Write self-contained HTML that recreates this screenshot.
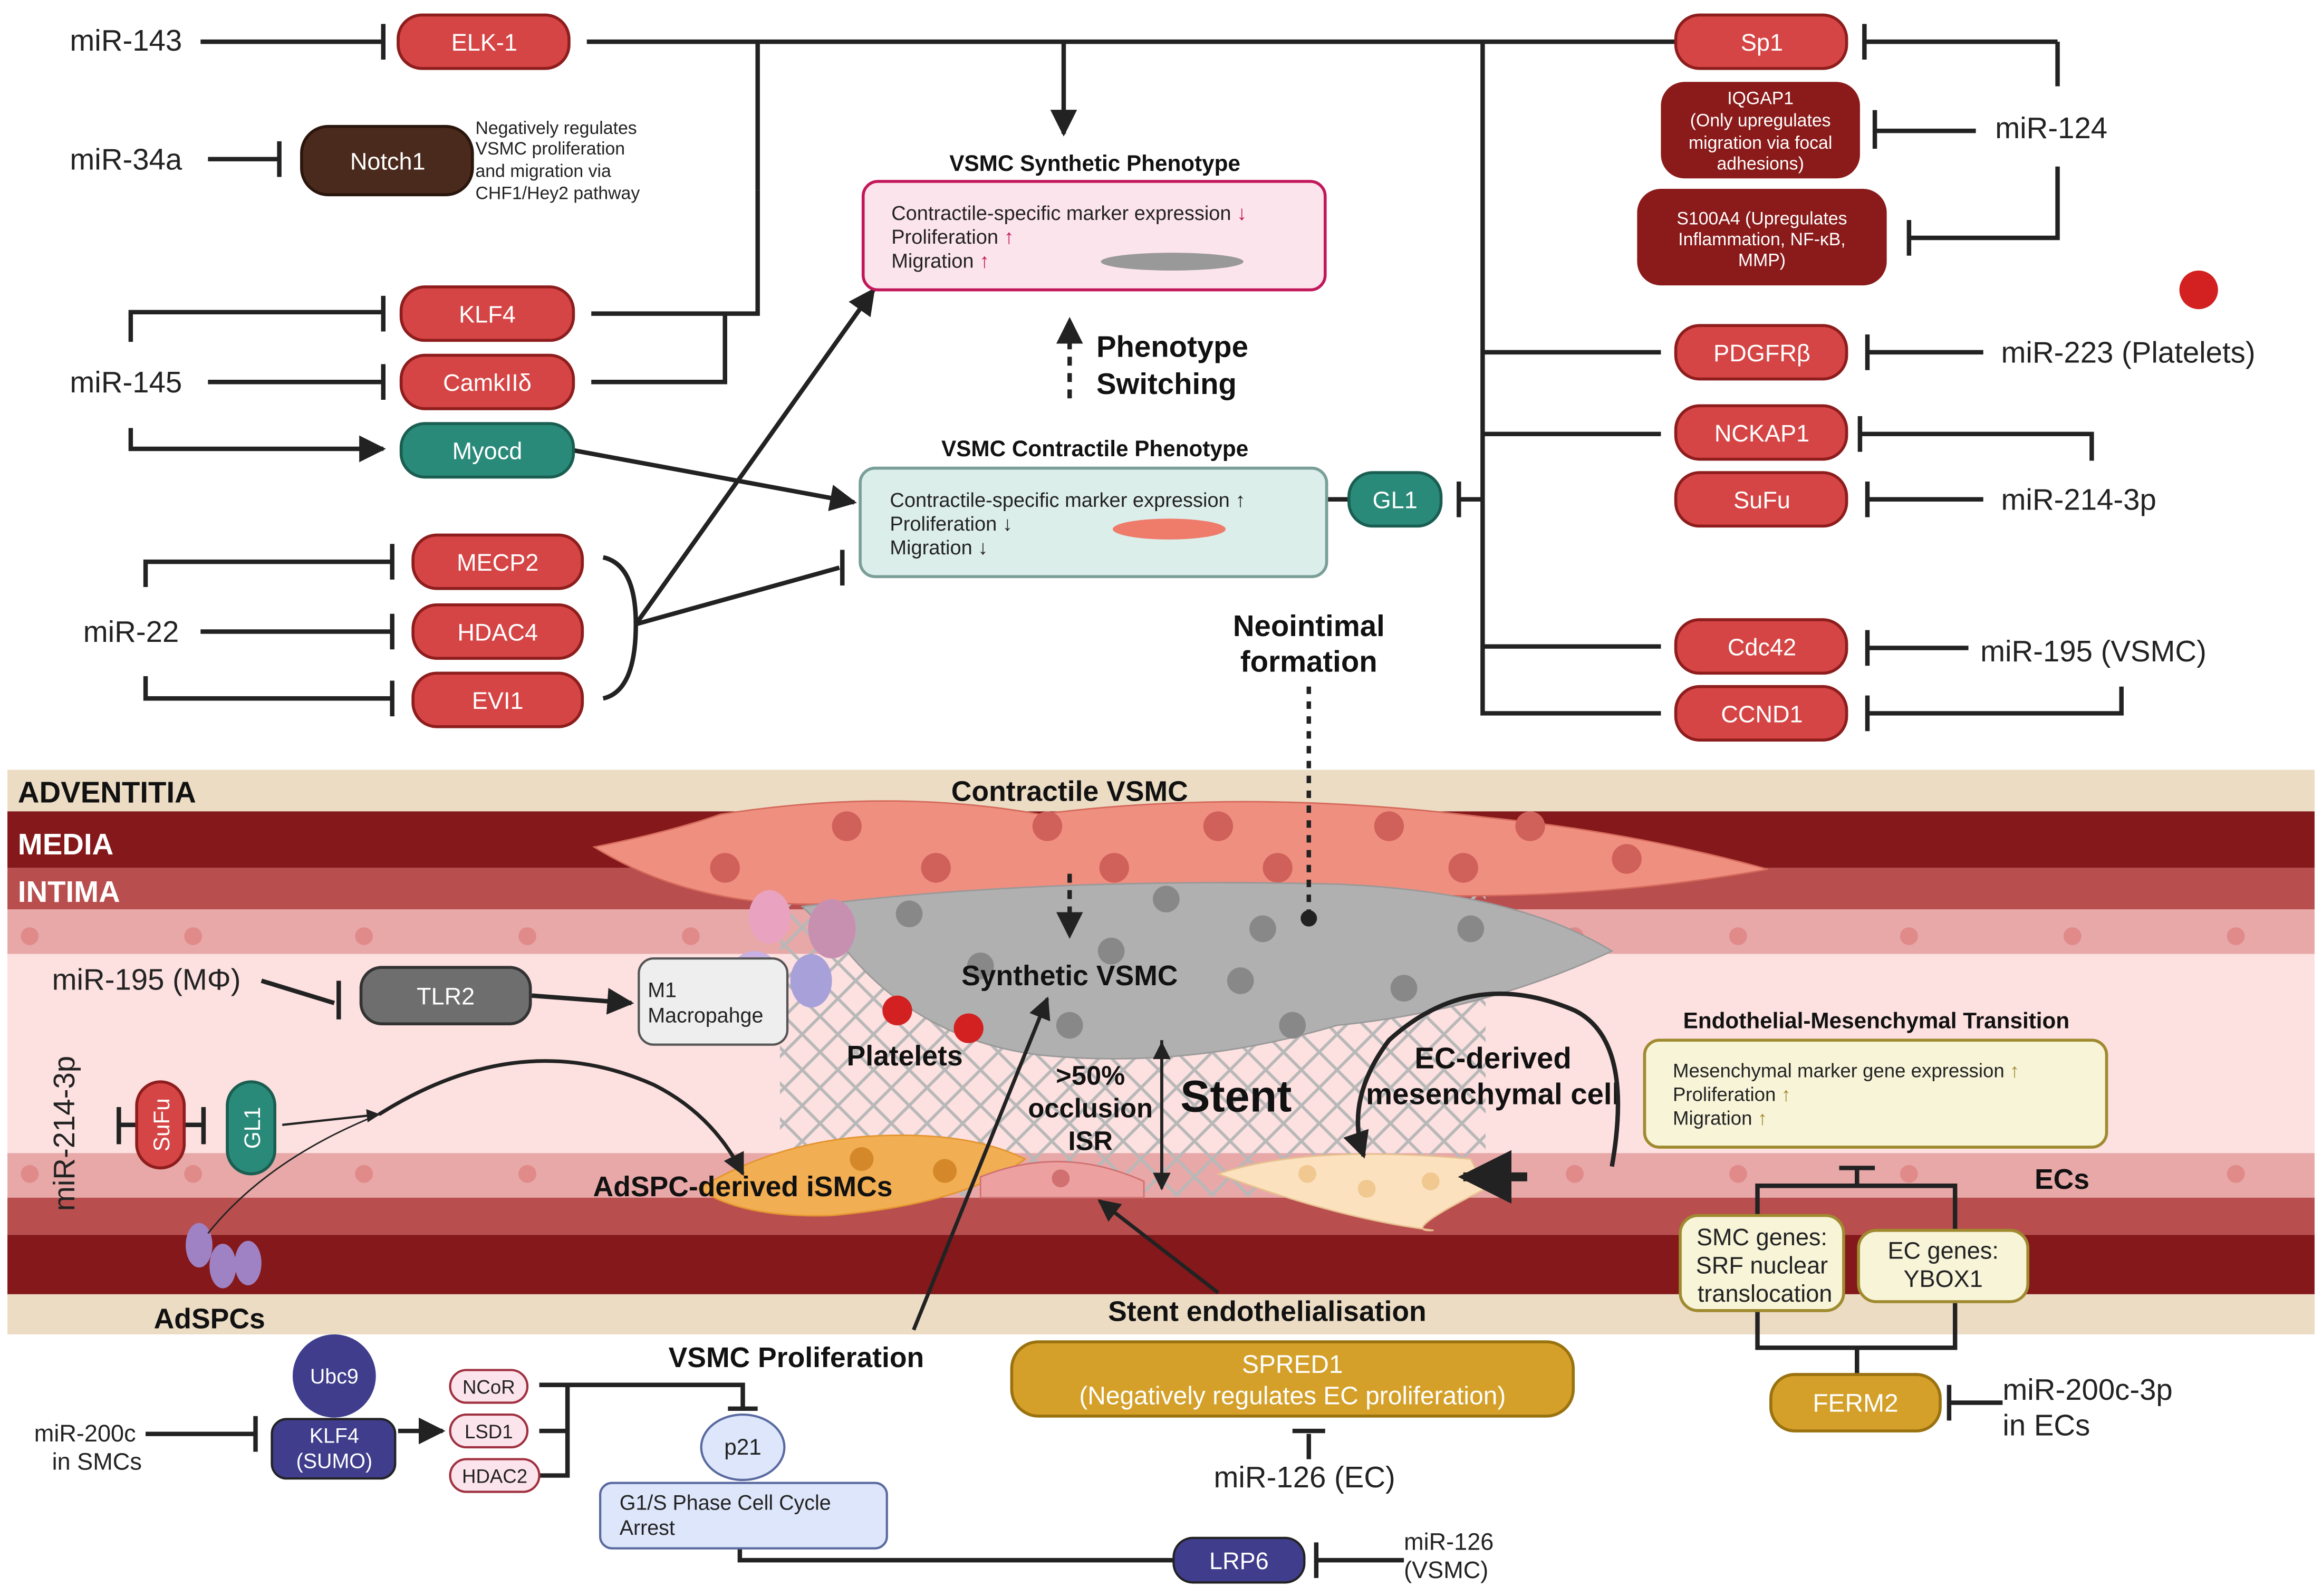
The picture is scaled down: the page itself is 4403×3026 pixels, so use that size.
<!DOCTYPE html>
<html><head><meta charset="utf-8"><style>
html,body{margin:0;padding:0;background:#fff}
svg{display:block}
text{font-family:"Liberation Sans",sans-serif}
</style></head><body>
<svg width="4403" height="3026" viewBox="0 0 1563 1074" xmlns="http://www.w3.org/2000/svg">
<defs>
<marker id="ar" viewBox="0 0 10 10" refX="9" refY="5" markerWidth="6" markerHeight="6" orient="auto"><path d="M0,0L10,5L0,10z" fill="#222"/></marker>
<pattern id="mesh" width="24" height="24" patternUnits="userSpaceOnUse"><path d="M0,12L12,0L24,12L12,24z" fill="none" stroke="#b8b8b8" stroke-width="2"/></pattern>
</defs>
<rect width="1563" height="1074" fill="#fff"/>
<rect x="5" y="518" width="1553" height="28" fill="#ecdcc4"/>
<rect x="5" y="546" width="1553" height="38" fill="#84181a"/>
<rect x="5" y="584" width="1553" height="28" fill="#b84e4e"/>
<rect x="5" y="612" width="1553" height="30" fill="#e8a8a8"/>
<rect x="5" y="642" width="1553" height="134" fill="#fde0e0"/>
<rect x="5" y="776" width="1553" height="30" fill="#e8a8a8"/>
<rect x="5" y="806" width="1553" height="25" fill="#b84e4e"/>
<rect x="5" y="831" width="1553" height="40" fill="#84181a"/>
<rect x="5" y="871" width="1553" height="27" fill="#ecdcc4"/>
<g fill="#e08a8a">
<circle cx="20" cy="630" r="6"/><circle cx="130" cy="630" r="6"/><circle cx="245" cy="630" r="6"/><circle cx="355" cy="630" r="6"/><circle cx="465" cy="630" r="6"/><circle cx="1060" cy="630" r="6"/><circle cx="1170" cy="630" r="6"/><circle cx="1285" cy="630" r="6"/><circle cx="1395" cy="630" r="6"/><circle cx="1505" cy="630" r="6"/>
<circle cx="20" cy="790" r="6"/><circle cx="130" cy="790" r="6"/><circle cx="245" cy="790" r="6"/><circle cx="355" cy="790" r="6"/><circle cx="1060" cy="790" r="6"/><circle cx="1170" cy="790" r="6"/><circle cx="1285" cy="790" r="6"/><circle cx="1505" cy="790" r="6"/>
</g>
<rect x="525" y="600" width="475" height="205" fill="url(#mesh)"/>
<g fill="#ef8f80" stroke="#d56a5c" stroke-width="1">
<path d="M485,548 Q600,530 700,548 Q840,530 1000,550 Q1100,560 1190,585 Q1050,610 900,600 Q750,625 600,605 Q480,620 400,570 Q450,560 485,548z"/>
</g>
<g fill="#d0605a"><circle cx="570" cy="556" r="10"/><circle cx="705" cy="556" r="10"/><circle cx="820" cy="556" r="10"/><circle cx="935" cy="556" r="10"/><circle cx="1030" cy="556" r="10"/><circle cx="488" cy="584" r="10"/><circle cx="630" cy="584" r="10"/><circle cx="750" cy="584" r="10"/><circle cx="860" cy="584" r="10"/><circle cx="985" cy="584" r="10"/><circle cx="1095" cy="578" r="10"/></g>
<path d="M540,610 Q700,590 900,595 Q1020,600 1085,640 Q1000,680 900,690 Q800,720 700,710 Q620,700 570,640z" fill="#b0b0b0" stroke="#999"/>
<g fill="#888"><circle cx="612" cy="615" r="9"/><circle cx="785" cy="605" r="9"/><circle cx="850" cy="625" r="9"/><circle cx="990" cy="625" r="9"/><circle cx="660" cy="650" r="9"/><circle cx="835" cy="660" r="9"/><circle cx="945" cy="665" r="9"/><circle cx="720" cy="690" r="9"/><circle cx="870" cy="690" r="9"/><circle cx="748" cy="640" r="9"/></g>
<g><ellipse cx="518" cy="617" rx="14" ry="18" fill="#e9a3c0"/><ellipse cx="560" cy="625" rx="16" ry="20" fill="#c890b0"/><ellipse cx="508" cy="660" rx="18" ry="20" fill="#c8b0e0"/><ellipse cx="546" cy="660" rx="14" ry="18" fill="#a8a0d8"/></g>
<g fill="#d32020"><circle cx="604" cy="680" r="10"/><circle cx="652" cy="692" r="10"/><circle cx="1480" cy="195" r="13"/></g>
<path d="M470,800 Q520,770 580,765 Q650,760 690,780 Q650,810 560,818 Q500,820 470,800z" fill="#f2ae52" stroke="#e39530"/>
<circle cx="580" cy="780" r="8" fill="#d4882a"/><circle cx="636" cy="788" r="8" fill="#d4882a"/>
<path d="M660,792 Q715,770 770,795 L770,806 L660,806z" fill="#eca0a0" stroke="#d07070"/>
<circle cx="714" cy="793" r="6" fill="#d07070"/>
<path d="M820,790 Q880,770 990,780 L1000,800 Q940,830 965,828 Q900,820 820,790z" fill="#fbe1bd" stroke="#e8c090"/>
<g fill="#f0c890"><circle cx="880" cy="790" r="6"/><circle cx="920" cy="800" r="6"/><circle cx="963" cy="795" r="6"/></g>
<g fill="#9f82c4"><ellipse cx="134" cy="838" rx="9" ry="15"/><ellipse cx="150" cy="852" rx="9" ry="15"/><ellipse cx="167" cy="850" rx="9" ry="15"/></g>
<g font-weight="bold" font-size="20">
<text x="12" y="540" fill="#111">ADVENTITIA</text>
<text x="12" y="575" fill="#fff">MEDIA</text>
<text x="12" y="607" fill="#fff">INTIMA</text>
<text x="720" y="539" text-anchor="middle" font-size="19" fill="#111">Contractile VSMC</text>
<text x="720" y="663" text-anchor="middle" font-size="19" fill="#111">Synthetic VSMC</text>
<text x="609" y="717" text-anchor="middle" font-size="19" fill="#111">Platelets</text>
<text x="734" y="730" text-anchor="middle" font-size="18" fill="#111">&gt;50%</text>
<text x="734" y="752" text-anchor="middle" font-size="18" fill="#111">occlusion</text>
<text x="734" y="774" text-anchor="middle" font-size="18" fill="#111">ISR</text>
<text x="832" y="748" text-anchor="middle" font-size="30" fill="#111">Stent</text>
<text x="1005" y="719" text-anchor="middle" font-size="20" fill="#111">EC-derived</text>
<text x="1005" y="743" text-anchor="middle" font-size="20" fill="#111">mesenchymal cell</text>
<text x="500" y="805" text-anchor="middle" font-size="19" fill="#111">AdSPC-derived iSMCs</text>
<text x="1388" y="800" text-anchor="middle" font-size="19" fill="#111">ECs</text>
<text x="141" y="894" text-anchor="middle" font-size="19" fill="#111">AdSPCs</text>
<text x="853" y="889" text-anchor="middle" font-size="19" fill="#111">Stent endothelialisation</text>
<text x="536" y="920" text-anchor="middle" font-size="19" fill="#111">VSMC Proliferation</text>
<text x="881" y="428" text-anchor="middle" font-size="20" fill="#111">Neointimal</text>
<text x="881" y="452" text-anchor="middle" font-size="20" fill="#111">formation</text>
<text x="738" y="240" font-size="20" fill="#111">Phenotype</text>
<text x="738" y="265" font-size="20" fill="#111">Switching</text>
<text x="737" y="115" text-anchor="middle" font-size="15" fill="#111">VSMC Synthetic Phenotype</text>
<text x="737" y="307" text-anchor="middle" font-size="15" fill="#111">VSMC Contractile Phenotype</text>
<text x="1263" y="692" text-anchor="middle" font-size="15" fill="#111">Endothelial-Mesenchymal Transition</text>
</g>
<g stroke="#222" stroke-width="3" fill="none">
<path d="M395,28 H1128"/><path d="M510,28 V128"/><path d="M398,211 H510 V128"/><path d="M398,257 H488 V211"/>
<path d="M716,28 V90" marker-end="url(#ar)"/>
<path d="M998,28 V480 H1118"/><path d="M998,237 H1118"/><path d="M998,292 H1118"/><path d="M998,435 H1118"/>
<path d="M135,28 H258"/><path d="M258,16 V40"/>
<path d="M140,107 H188"/><path d="M188,95 V119"/>
<path d="M88,230 V210 H258"/><path d="M258,199 V223"/>
<path d="M140,257 H258"/><path d="M258,245 V269"/>
<path d="M88,288 V302 H258" marker-end="url(#ar)"/>
<path d="M98,395 V378 H264"/><path d="M264,366 V390"/>
<path d="M135,425 H264"/><path d="M264,413 V437"/>
<path d="M98,455 V470 H264"/><path d="M264,458 V482"/>
<path d="M1385,28 V58"/><path d="M1262,74 V100"/><path d="M1262,88 H1330"/><path d="M1385,112 V160 H1285"/><path d="M1285,148 V172"/>
<path d="M1255,28 H1385"/><path d="M1255,16 V40"/>
<path d="M1335,237 H1257"/><path d="M1257,225 V249"/>
<path d="M1408,310 V292 H1252"/><path d="M1252,280 V304"/>
<path d="M1335,336 H1257"/><path d="M1257,324 V348"/>
<path d="M1325,436 H1257"/><path d="M1257,424 V448"/>
<path d="M1428,462 V480 H1257"/><path d="M1257,468 V492"/>
<path d="M998,336 H982"/><path d="M982,324 V348"/>
<path d="M908,336 H858" marker-end="url(#ar)"/>
<path d="M386,303 L575,338" marker-end="url(#ar)"/>
<path d="M428,420 L588,195" marker-end="url(#ar)"/>
<path d="M428,420 L565,382"/><path d="M567,370 V394"/>
<path d="M406,375 Q428,380 428,420 Q428,465 406,470"/>
<path d="M720,268 V215" stroke-dasharray="6,5" marker-end="url(#ar)"/>
<path d="M881,462 V615" stroke-dasharray="5,5"/>
<circle cx="881" cy="618" r="4" fill="#222"/>
<path d="M720,588 V630" stroke-dasharray="6,5" marker-end="url(#ar)"/>
<path d="M176,660 L225,675"/><path d="M228,660 V686"/>
<path d="M358,670 L425,675" marker-end="url(#ar)"/>
<path d="M80,757 H92"/><path d="M80,745 V770"/><path d="M124,757 H137"/><path d="M137,745 V770"/>
<path d="M190,757 L255,750" stroke-width="1.5" marker-end="url(#ar)"/>
<path d="M255,750 Q350,690 440,730 Q480,750 500,790" stroke-width="2.5" marker-end="url(#ar)"/>
<path d="M140,830 Q180,780 255,750" stroke-width="1"/>
<path d="M615,895 L705,672" stroke-width="2.5" marker-end="url(#ar)"/>
<path d="M820,870 L740,808" stroke-width="2.5" marker-end="url(#ar)"/>
<path d="M782,700 V800" stroke-width="2" marker-end="url(#ar)"/><path d="M782,790 V702" stroke-width="2" marker-end="url(#ar)"/>
<path d="M1085,785 Q1100,700 1060,680 Q990,650 935,700 Q905,740 918,778" stroke-width="3" marker-end="url(#ar)"/>
<path d="M1028,792 H985" stroke-width="6" marker-end="url(#ar)"/>
<path d="M1183,818 V798 H1316 V828"/><path d="M1250,798 V787"/><path d="M1238,786 H1262"/>
<path d="M1183,882 V907 H1316 V877"/><path d="M1250,907 V925"/>
<path d="M1348,944 H1312"/><path d="M1312,932 V956"/>
<path d="M881,982 V965"/><path d="M870,963 H892"/>
<path d="M98,965 H172"/><path d="M172,953 V977"/>
<path d="M268,963 H298" marker-end="url(#ar)"/>
<path d="M363,932 H500 V948"/><path d="M490,948 H510"/><path d="M363,963 H382"/><path d="M363,993 H382 V932"/>
<path d="M790,1050 H498 V1038"/><path d="M488,1036 H508"/>
<path d="M945,1050 H886"/><path d="M886,1038 V1062"/>
</g>
<g stroke="#8e1d1d" stroke-width="2" fill="#d64545">
<rect x="268" y="10" width="115" height="36" rx="16"/>
<rect x="270" y="193" width="116" height="36" rx="16"/>
<rect x="270" y="239" width="116" height="36" rx="16"/>
<rect x="278" y="360" width="114" height="36" rx="16"/>
<rect x="278" y="407" width="114" height="36" rx="16"/>
<rect x="278" y="453" width="114" height="36" rx="16"/>
<rect x="1128" y="10" width="115" height="36" rx="16"/>
<rect x="1128" y="219" width="115" height="36" rx="16"/>
<rect x="1128" y="273" width="115" height="36" rx="16"/>
<rect x="1128" y="318" width="115" height="36" rx="16"/>
<rect x="1128" y="417" width="115" height="36" rx="16"/>
<rect x="1128" y="462" width="115" height="36" rx="16"/>
<rect x="92" y="728" width="32" height="58" rx="16"/>
</g>
<rect x="1118" y="55" width="134" height="65" rx="16" fill="#8b1a1a"/>
<rect x="1102" y="127" width="168" height="65" rx="16" fill="#8b1a1a"/>
<rect x="203" y="85" width="115" height="46" rx="18" fill="#4a2a1c" stroke="#2a160c" stroke-width="2"/>
<g fill="#2a8a7a" stroke="#1a5e52" stroke-width="2">
<rect x="270" y="285" width="116" height="36" rx="16"/>
<rect x="908" y="318" width="62" height="36" rx="16"/>
<rect x="153" y="728" width="32" height="62" rx="16"/>
</g>
<rect x="243" y="651" width="114" height="38" rx="14" fill="#6e6e6e" stroke="#333" stroke-width="2"/>
<rect x="430" y="645" width="100" height="58" rx="10" fill="#eee" stroke="#555" stroke-width="1.5"/>
<g fill="#fff" font-size="16" text-anchor="middle">
<text x="326" y="34">ELK-1</text><text x="261" y="114">Notch1</text>
<text x="328" y="217">KLF4</text><text x="328" y="263">CamkIIδ</text><text x="328" y="309">Myocd</text>
<text x="335" y="384">MECP2</text><text x="335" y="431">HDAC4</text><text x="335" y="477">EVI1</text>
<text x="1186" y="34">Sp1</text><text x="1186" y="243">PDGFRβ</text><text x="1186" y="297">NCKAP1</text><text x="1186" y="342">SuFu</text><text x="1186" y="441">Cdc42</text><text x="1186" y="486">CCND1</text>
<text x="939" y="342">GL1</text><text x="300" y="676">TLR2</text>
<g font-size="12"><text x="1185" y="70">IQGAP1</text><text x="1185" y="85">(Only upregulates</text><text x="1185" y="100">migration via focal</text><text x="1185" y="114">adhesions)</text>
<text x="1186" y="151">S100A4 (Upregulates</text><text x="1186" y="165">Inflammation, NF-κB,</text><text x="1186" y="179">MMP)</text></g>
<text transform="translate(114,757) rotate(-90)" font-size="15">SuFu</text>
<text transform="translate(175,759) rotate(-90)" font-size="15">GL1</text>
</g>
<text x="436" y="671" font-size="14" fill="#222">M1</text><text x="436" y="688" font-size="14" fill="#222">Macropahge</text>
<g font-size="20" fill="#222">
<text x="47" y="34">miR-143</text><text x="47" y="114">miR-34a</text><text x="47" y="264">miR-145</text><text x="56" y="432">miR-22</text>
<text x="1343" y="93">miR-124</text><text x="1347" y="244">miR-223 (Platelets)</text><text x="1347" y="343">miR-214-3p</text><text x="1333" y="445">miR-195 (VSMC)</text>
<text x="35" y="666">miR-195 (MΦ)</text>
<text transform="translate(50,815) rotate(-90)">miR-214-3p</text>
<text x="817" y="1001">miR-126 (EC)</text>
<text x="1348" y="942">miR-200c-3p</text><text x="1348" y="966">in ECs</text>
</g>
<g font-size="12" fill="#222"><text x="320" y="90">Negatively regulates</text><text x="320" y="104">VSMC proliferation</text><text x="320" y="119">and migration via</text><text x="320" y="134">CHF1/Hey2 pathway</text></g>
<rect x="581" y="122" width="311" height="73" rx="10" fill="#fce4ec" stroke="#c2185b" stroke-width="2"/>
<rect x="579" y="315" width="314" height="73" rx="10" fill="#dceee9" stroke="#7a9e98" stroke-width="2"/>
<g font-size="13.5" fill="#222">
<text x="600" y="148">Contractile-specific marker expression <tspan fill="#c2185b">↓</tspan></text>
<text x="600" y="164">Proliferation <tspan fill="#c2185b">↑</tspan></text><text x="600" y="180">Migration <tspan fill="#c2185b">↑</tspan></text>
<text x="599" y="341">Contractile-specific marker expression ↑</text>
<text x="599" y="357">Proliferation ↓</text><text x="599" y="373">Migration ↓</text>
</g>
<ellipse cx="789" cy="176" rx="48" ry="6" fill="#999"/>
<ellipse cx="787" cy="356" rx="38" ry="7" fill="#ef7b6b"/>
<rect x="1107" y="700" width="311" height="72" rx="10" fill="#f7f4d8" stroke="#a08a30" stroke-width="2"/>
<g font-size="13" fill="#222"><text x="1126" y="725">Mesenchymal marker gene expression <tspan fill="#a08a30">↑</tspan></text><text x="1126" y="741">Proliferation <tspan fill="#a08a30">↑</tspan></text><text x="1126" y="757">Migration <tspan fill="#a08a30">↑</tspan></text></g>
<rect x="1131" y="818" width="110" height="64" rx="12" fill="#f7f4d8" stroke="#a08a30" stroke-width="2"/>
<rect x="1251" y="828" width="114" height="48" rx="12" fill="#f7f4d8" stroke="#a08a30" stroke-width="2"/>
<g font-size="16" fill="#222" text-anchor="middle"><text x="1186" y="838">SMC genes:</text><text x="1186" y="857">SRF nuclear</text><text x="1188" y="876">translocation</text><text x="1308" y="847">EC genes:</text><text x="1308" y="866">YBOX1</text></g>
<rect x="681" y="903" width="378" height="50" rx="18" fill="#d4a029" stroke="#9a7210" stroke-width="2"/>
<rect x="1192" y="925" width="114" height="38" rx="16" fill="#d4a029" stroke="#9a7210" stroke-width="2"/>
<g fill="#fff" font-size="17" text-anchor="middle"><text x="870" y="924">SPRED1</text><text x="870" y="945">(Negatively regulates EC proliferation)</text><text x="1249" y="950">FERM2</text></g>
<circle cx="225" cy="926" r="28" fill="#3f3d8c"/>
<rect x="183" y="955" width="83" height="40" rx="10" fill="#3f3d8c" stroke="#222" stroke-width="1.5"/>
<rect x="790" y="1035" width="88" height="30" rx="13" fill="#3f3d8c" stroke="#222" stroke-width="1.5"/>
<g fill="#fff" font-size="14" text-anchor="middle"><text x="225" y="931">Ubc9</text><text x="225" y="971">KLF4</text><text x="225" y="988">(SUMO)</text><text x="834" y="1056" font-size="16">LRP6</text></g>
<g fill="#fce4ec" stroke="#a03040" stroke-width="1.5"><rect x="303" y="922" width="52" height="22" rx="11"/><rect x="303" y="952" width="52" height="22" rx="11"/><rect x="303" y="982" width="60" height="22" rx="11"/></g>
<g font-size="13" fill="#222" text-anchor="middle"><text x="329" y="938">NCoR</text><text x="329" y="968">LSD1</text><text x="333" y="998">HDAC2</text></g>
<ellipse cx="500" cy="974" rx="28" ry="22" fill="#dde6fa" stroke="#5a6aa0" stroke-width="1.5"/>
<text x="500" y="979" font-size="15" text-anchor="middle" fill="#222">p21</text>
<rect x="404" y="998" width="193" height="44" rx="8" fill="#dde6fa" stroke="#5a6aa0" stroke-width="1.5"/>
<g font-size="14" fill="#222"><text x="417" y="1016">G1/S Phase Cell Cycle</text><text x="417" y="1033">Arrest</text>
<text x="23" y="970" font-size="16">miR-200c</text><text x="35" y="989" font-size="16">in SMCs</text>
<text x="945" y="1043" font-size="16">miR-126</text><text x="945" y="1062" font-size="16">(VSMC)</text></g>
</svg>
</body></html>
